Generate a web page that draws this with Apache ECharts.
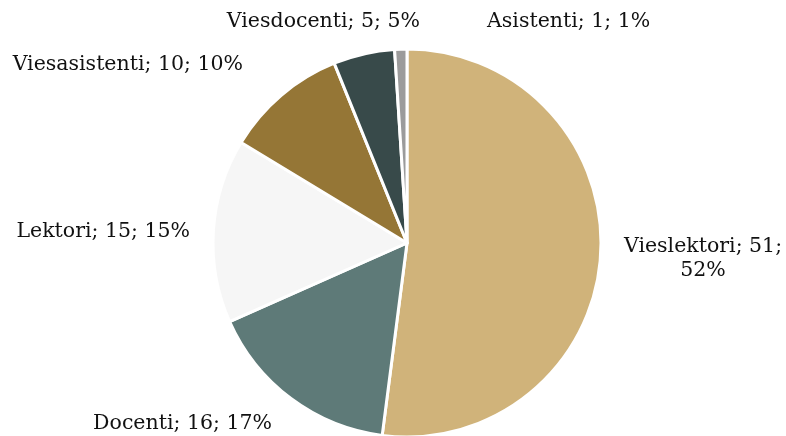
<!DOCTYPE html>
<html>
<head>
<meta charset="utf-8">
<script src="https://cdn.jsdelivr.net/npm/echarts@6/dist/echarts.min.js"></script>
<style>
  html, body { margin: 0; padding: 0; background: #fff; }
  #staffPie { width: 786px; height: 436px; }
</style>
</head>
<body>
<div id="staffPie"></div>
<script>
  var categories = ['Vieslektori', 'Docenti', 'Lektori', 'Viesasistenti', 'Viesdocenti', 'Asistenti']
  var counts = [51, 16, 15, 10, 5, 1]
  var sliceColors = ['#d0b37a', '#5e7a78', '#f6f6f6', '#957636', '#384a4a', '#9b9b9b']
  // where Excel put the data labels (x, y, align), label layout only
  var labelAnchors = [
    [703, 259, 'center'],
    [272, 424, 'right'],
    [190, 232, 'right'],
    [243, 65, 'right'],
    [420, 22, 'right'],
    [487, 22, 'left']
  ]

  var chart = echarts.init(document.getElementById('staffPie'))
  chart.setOption({
    animation: false,
    series: [{
      type: 'pie',
      center: [407, 243],
      radius: 194,
      startAngle: 90,
      clockwise: true,
      avoidLabelOverlap: false,
      itemStyle: {
        borderColor: '#fff',
        borderWidth: 3
      },
      label: {
        show: true,
        position: 'outside',
        fontFamily: 'DejaVu Serif',
        fontSize: 20.5,
        lineHeight: 24,
        color: '#111',
        formatter: '{b}; {c}; {d}%'
      },
      labelLine: {
        show: false
      },
      labelLayout: function (params) {
        var a = labelAnchors[params.dataIndex]
        return {
          x: a[0],
          y: a[1],
          align: a[2],
          verticalAlign: 'middle',
          hideOverlap: false,
          moveOverlap: false
        }
      },
      percentPrecision: 0,
      data: categories.map(function (name, i) {
        var item = { name: name, value: counts[i], itemStyle: { color: sliceColors[i] } }
        if (i === 0) {
          item.label = { formatter: '{b}; {c};\n{d}%', align: 'center' }
        }
        return item
      })
    }]
  })
</script>
</body>
</html>
